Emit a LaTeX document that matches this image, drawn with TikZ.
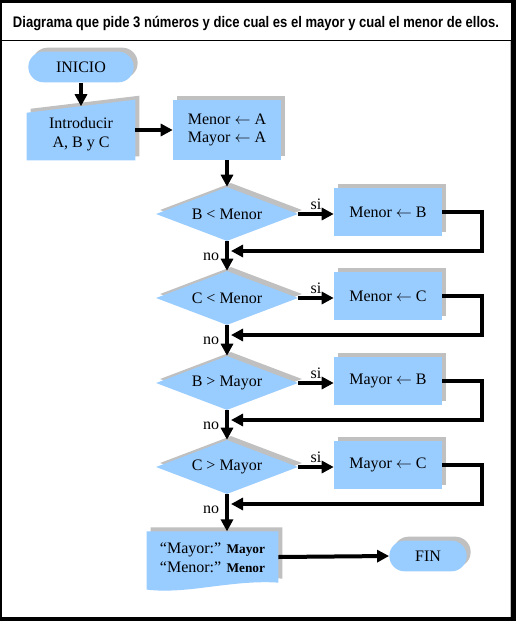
\documentclass[tikz,border=0pt]{standalone}
\usepackage{fontspec}
\setmainfont{Liberation Serif}
\newfontfamily\titlefont{Liberation Sans}
\usetikzlibrary{arrows.meta,positioning,shapes.geometric,shapes.misc,shadows,calc,backgrounds}
\definecolor{sky}{RGB}{153,204,255}
\definecolor{smoke}{RGB}{192,192,192}
\tikzset{
  >={Triangle[length=9pt,width=9pt]},
  base/.style={fill=sky,font=\fontsize{12}{14}\selectfont,align=center,inner sep=1pt,
    drop shadow={shadow xshift=3pt,shadow yshift=3pt,fill=smoke,opacity=1}},
  terminal/.style={base,rounded rectangle,minimum width=#1,minimum height=23pt},
  terminal/.default=60pt,
  process/.style={base,rectangle,minimum width=81pt,minimum height=#1},
  process/.default=36pt,
  decision/.style={base,diamond,aspect=2.6,minimum width=106.5pt,minimum height=40.5pt},
  frame/.style={minimum width=#1,inner sep=0pt},
  flow/.style={->,line width=3pt,draw=black},
  lbl/.style={font=\fontsize{12}{14}\selectfont,inner sep=1pt,align=center},
}
\newcommand{\asig}{$\leftarrow$}

\begin{document}
\begin{tikzpicture}[x=0.75pt,y=-0.75pt]
    % marco y titulo
    \begin{scope}[on background layer]
      \fill[black] (0,0) rectangle (516,621);
      \fill[white] (2,3) rectangle (511,617);
      \fill[smoke] (510,41) rectangle (511,617);
      \draw[line width=0.75pt] (2,40.5) -- (511,40.5);
    \end{scope}
    \node[font=\titlefont\bfseries\fontsize{11.5}{13}\selectfont,anchor=base] (titulo) at (256,27)
      {\scalebox{0.85}[1]{Diagrama que pide 3 números y dice cual es el mayor y cual el menor de ellos.}};

    % inicio, lectura y asignacion
    \node[terminal=81pt] (inicio) at (81,67) {INICIO};
    \node[frame=81pt,minimum height=45pt] (input) at (81,130) {};
    \node[lbl] (input txt) at (81,134) {Introducir\\A, B y C};
    \node[process=45pt] (init) at (227,130) {Menor \asig\ A\\Mayor \asig\ A};
    \begin{scope}[on background layer]
      \foreach \dx/\dy/\col in {4/-4/smoke,0/0/sky}
        \fill[\col] ($(input.south west)+(\dx,\dy)$) -- ($(input.north west)+(\dx,13+\dy)$)
          -- ($(input.north east)+(\dx,\dy)$) -- ($(input.south east)+(\dx,\dy)$) -- cycle;
    \end{scope}
    \coordinate (slant) at ($(input.north)+(0,6.5)$);
    \draw[flow] (inicio.south) -- (slant);
    \draw[flow] (input.east) -- (init.west);

    % comparaciones
    \foreach \c/\v/\w/\yy [count=\i] in {B < Menor/Menor/B/214,C < Menor/Menor/C/298,
      B > Mayor/Mayor/B/383,C > Mayor/Mayor/C/467}
    {
      \node[decision] (d\i) at (227,\yy) {\c};
      \node[process] (b\i) at (388,\yy-2) {\v\ \asig\ \w};
      \coordinate (j\i) at (231,\yy+37);
      \draw[flow] (d\i.east) -- (d\i.east -| b\i.west) node[lbl,midway,above=1pt] (si\i) {si};
      \draw[flow] (b\i.east) -- ++(40,0) |- (j\i);
      \node[lbl] (no\i) at (211,\yy+43) {no};
    }
    \draw[flow] (init.south) -- (d1.north);
    \foreach \i [evaluate=\i as \j using int(\i+1)] in {1,2,3}
      \draw[flow] (d\i.south) -- (d\j.north);

    % salida y fin
    \node[frame=98.25pt,minimum height=38pt] (salida) at (212.5,557) {};
    \node[lbl,align=left] (salida txt) at (212.5,558) {“Mayor:” {\bfseries\fontsize{10}{14}\selectfont Mayor}\\“Menor:” {\bfseries\fontsize{10}{14}\selectfont Menor}};
    \begin{scope}[on background layer]
      \foreach \dx/\dy/\col in {4/-4/smoke,0/0/sky}
        \fill[\col] ($(salida.north west)+(\dx,\dy)$) -- ($(salida.north east)+(\dx,\dy)$)
          -- ($(salida.south east)+(\dx,\dy)$)
          .. controls ($(salida.south)+(\dx+18,\dy-3)$) and ($(salida.south)+(\dx-25,\dy+12)$)
          .. ($(salida.south west)+(\dx,\dy+7)$) -- cycle;
    \end{scope}
    \node[terminal] (fin) at (428,556) {FIN};
    \draw[flow] (d4.south) -- (d4.south |- salida.north);
    \draw[flow] (salida.east) -- (fin.west);
  \end{tikzpicture}
\end{document}
